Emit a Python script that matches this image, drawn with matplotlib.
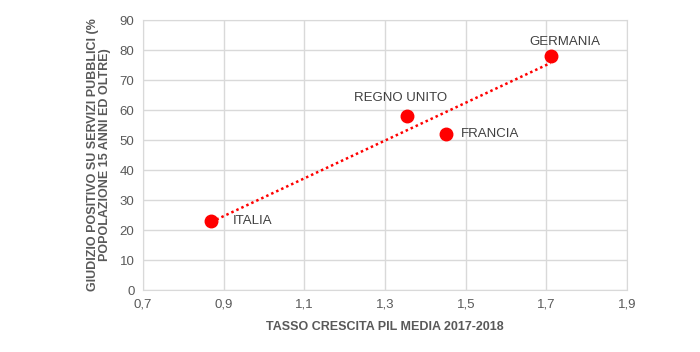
import numpy as np
import matplotlib.pyplot as plt

plt.rcParams['font.family'] = ['Liberation Sans', 'DejaVu Sans']

paesi = ['ITALIA', 'REGNO UNITO', 'FRANCIA', 'GERMANIA']
pil = np.array([0.87, 1.355, 1.45, 1.71])
giudizio = np.array([23, 58, 52, 78])

grey = '#595959'
fig = plt.figure(figsize=(7, 3.52), dpi=100)
ax = fig.add_axes([0.204, 0.176, 0.692, 0.767])

# linea di tendenza
m, q = np.polyfit(pil, giudizio, 1)
xx = np.array([pil.min(), pil.max()])
ax.plot(xx, m * xx + q, color='#ff0000', linestyle=(0, (1, 1.2)), linewidth=1.8, zorder=2)
ax.plot(pil, giudizio, 'o', color='#ff0000', markersize=9, zorder=3)

offsets = {'ITALIA': (15, 0, 'left', 'center'),
           'REGNO UNITO': (-5, 9, 'center', 'bottom'),
           'FRANCIA': (11, 0, 'left', 'center'),
           'GERMANIA': (10, 6, 'center', 'bottom')}
for p, x, y in zip(paesi, pil, giudizio):
    dx, dy, ha, va = offsets[p]
    ax.annotate(p, (x, y), xytext=(dx, dy), textcoords='offset points',
                ha=ha, va=va, fontsize=9.5, color='#404040')

ax.set_xlim(0.7, 1.9)
ax.set_ylim(0, 90)
ax.set_xticks(np.arange(0.7, 1.91, 0.2))
ax.set_xticklabels([f'{v:.1f}'.replace('.', ',') for v in np.arange(0.7, 1.91, 0.2)])
ax.set_yticks(range(0, 91, 10))
ax.grid(True, color='#d9d9d9', linewidth=1)
ax.set_axisbelow(True)
for s in ax.spines.values():
    s.set_color('#d9d9d9')
ax.tick_params(length=0, colors=grey, labelsize=9.5, pad=6)

ax.set_xlabel('TASSO CRESCITA PIL MEDIA 2017-2018', fontsize=9, fontweight='bold', color=grey, labelpad=8)
ax.set_ylabel('GIUDIZIO POSITIVO SU SERVIZI PUBBLICI (%\nPOPOLAZIONE 15 ANNI ED OLTRE)', fontsize=9,
              fontweight='bold', color=grey, labelpad=6, linespacing=1.05)

fig.savefig('out.png', dpi=100)
